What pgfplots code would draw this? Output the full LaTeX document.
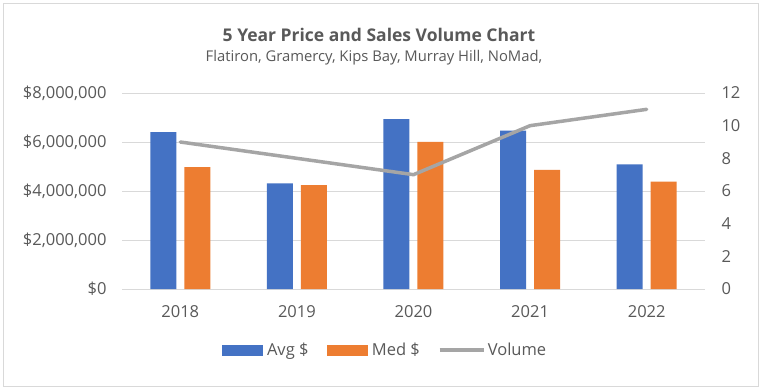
\documentclass[border=0pt]{standalone}
\usepackage{pgfplots}
\pgfplotsset{compat=1.18}
\usepackage{fontspec}
\setmainfont{Open Sans}
\definecolor{cblue}{HTML}{4472C4}
\definecolor{corange}{HTML}{ED7D31}
\definecolor{cgray}{HTML}{A5A5A5}
\definecolor{ctext}{HTML}{595959}
\definecolor{cgrid}{HTML}{D9D9D9}
\begin{document}
\begin{tikzpicture}[x=1pt,y=1pt]
\useasboundingbox (0,0) rectangle (761,389);
\fill[white] (0,0) rectangle (761,389);
\draw[cgrid, line width=1pt] (3,3) rectangle (758,385);
\node[anchor=base, text=ctext, font=\fontsize{17.5}{20}\selectfont\bfseries] at (379,347) {5 Year Price and Sales Volume Chart};
\node[anchor=base, text=ctext, font=\fontsize{14.8}{17}\selectfont] at (374,327) {Flatiron, Gramercy, Kips Bay, Murray Hill, NoMad,};
\begin{axis}[
  at={(122pt,100pt)}, anchor=south west, scale only axis,
  width=583pt, height=196pt,
  xmin=-0.5, xmax=4.5, ymin=0, ymax=8000000,
  axis line style={draw=none},
  ymajorgrids, grid style={cgrid, line width=0.8pt},
  major tick length=0pt,
  xtick={0,1,2,3,4}, xticklabels={2018,2019,2020,2021,2022},
  ytick={0,2000000,4000000,6000000,8000000},
  yticklabels={\$0,{\$2,000,000},{\$4,000,000},{\$6,000,000},{\$8,000,000}},
  scaled y ticks=false,
  ticklabel style={text=ctext, font=\fontsize{16.5}{20}\selectfont},
  yticklabel style={xshift=-12pt},
  xticklabel style={yshift=-13pt},
  /pgf/number format/assume math mode=true,
]
\addplot[ybar, bar width=26pt, bar shift=-17pt, fill=cblue, draw=none] coordinates {(0,6400000) (1,4310000) (2,6930000) (3,6460000) (4,5090000)};
\addplot[ybar, bar width=26pt, bar shift=17pt, fill=corange, draw=none] coordinates {(0,4970000) (1,4240000) (2,6010000) (3,4860000) (4,4380000)};
\end{axis}
\begin{axis}[
  at={(122pt,100pt)}, anchor=south west, scale only axis,
  width=583pt, height=196pt,
  xmin=-0.5, xmax=4.5, ymin=0, ymax=12,
  axis x line=none,
  axis y line*=right,
  y axis line style={draw=none},
  major tick length=0pt,
  ytick={0,2,4,6,8,10,12},
  yticklabel style={text=ctext, font=\fontsize{16.5}{20}\selectfont, anchor=west, xshift=13pt},
  /pgf/number format/assume math mode=true,
  legend style={at={(0.451,-0.311)}, anchor=center, draw=none, fill=none,
    legend columns=3, font=\fontsize{16.5}{20}\selectfont, text=ctext,
    /tikz/every even column/.append style={column sep=16pt}},
]
\addplot[cgray, line width=3.5pt, line cap=round, line join=round, forget plot] coordinates {(0,9) (1,8) (2,7) (3,10) (4,11)};
\addlegendimage{legend image code/.code={\fill[cblue] (0pt,-5pt) rectangle (40pt,5pt); \path (43pt,0pt);}}
\addlegendentry{Avg \$}
\addlegendimage{legend image code/.code={\fill[corange] (0pt,-5pt) rectangle (40pt,5pt); \path (43pt,0pt);}}
\addlegendentry{Med \$}
\addlegendimage{legend image code/.code={\draw[cgray, line width=3.5pt] (0pt,0pt) -- (44pt,0pt); \path (46pt,0pt);}}
\addlegendentry{Volume}
\end{axis}
\end{tikzpicture}
\end{document}
